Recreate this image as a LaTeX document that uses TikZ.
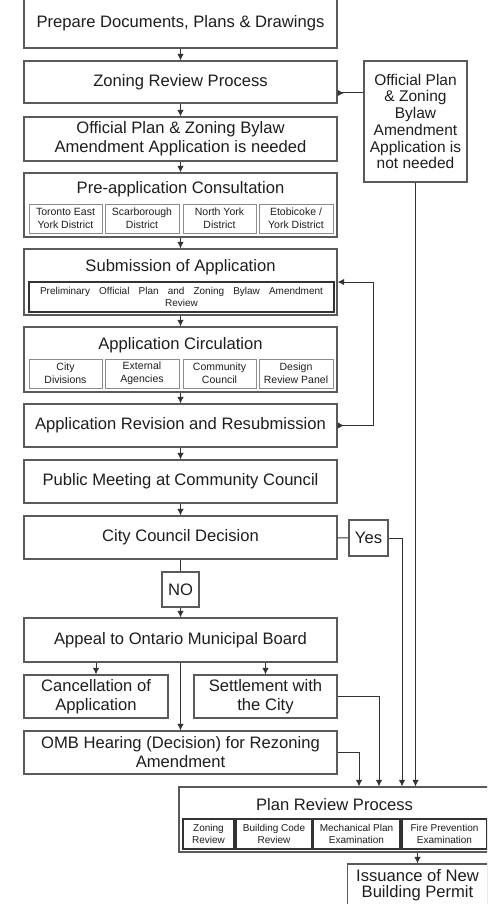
\documentclass[tikz,border=0pt]{standalone}
\usepackage{fontspec}
\setmainfont{Liberation Sans}
\usetikzlibrary{arrows.meta, positioning, calc}
\definecolor{boxgray}{RGB}{90, 90, 90}
\definecolor{inkgray}{RGB}{30, 30, 30}

\tikzset{
  stage/.style={draw=boxgray, line width=1.2pt, fill=white, text=inkgray, align=center,
    font=\fontsize{16.6}{19}\selectfont, minimum width=313pt, inner sep=2pt},
  title/.style={text=inkgray, font=\fontsize{16.6}{19}\selectfont, inner sep=0pt},
  part/.style={draw=black!45, line width=0.9pt, text=inkgray, align=center,
    font=\fontsize{10.5}{12.7}\selectfont, minimum height=29pt, inner sep=1pt},
  check/.style={draw=black!80, line width=1.8pt, text=inkgray, align=center,
    font=\fontsize{10}{12.5}\selectfont, minimum height=30pt, inner sep=1pt},
  flow/.style={draw=black!80, line width=1pt, -{Latex[length=6.5pt, width=6.5pt]}},
  link/.style={draw=black!80, line width=1pt},
}

\begin{document}
\begin{tikzpicture}[x=1pt, y=-1pt]
  \useasboundingbox (0,0) rectangle (487,904);
  \clip (0,0) rectangle (487,904);

  % main column
  \node[stage, minimum height=49pt] (prep) at (180.5,23.5) {Prepare Documents, Plans \& Drawings};
  \node[stage, minimum height=42pt] (zrp) at (180.5,82) {Zoning Review Process};
  \node[stage, minimum height=44pt] (need) at (180.5,139) {Official Plan \& Zoning Bylaw\\Amendment Application is needed};

  \node[stage, minimum height=64pt] (pre) at (180.5,205) {};
  \node[title] (pret) at (180.5,189) {Pre-application Consultation};
  \node[part, minimum width=73pt] (tor) at (65.5,218.5) {Toronto East\\York District};
  \node[part, minimum width=74pt] (sca) at (142,218.5) {Scarborough\\District};
  \node[part, minimum width=73pt] (nyk) at (219.5,218.5) {North York\\District};
  \node[part, minimum width=74pt] (eto) at (296,218.5) {Etobicoke /\\York District};

  \node[stage, minimum height=66pt] (sub) at (180.5,282) {};
  \node[title] (subt) at (180.5,267) {Submission of Application};
  \node[check, minimum width=305pt, line width=1.6pt] (prelim) at (181.5,297)
    {\makebox[283pt][s]{Preliminary Official Plan and Zoning Bylaw Amendment}\\Review};

  \node[stage, minimum height=65pt] (circ) at (180.5,359.5) {};
  \node[title] (circt) at (180.5,345) {Application Circulation};
  \node[part, minimum width=73pt] (cdiv) at (65.5,373.5) {City\\Divisions};
  \node[part, minimum width=74pt] (ext) at (142,373.5) {External\\Agencies};
  \node[part, minimum width=73pt] (ccom) at (219.5,373.5) {Community\\Council};
  \node[part, minimum width=74pt] (drp) at (296,373.5) {Design\\Review Panel};

  \node[stage, minimum height=43pt] (rev) at (180.5,425.5) {Application Revision and Resubmission};
  \node[stage, minimum height=43pt] (pub) at (180.5,481.5) {Public Meeting at Community Council};
  \node[stage, minimum height=43pt] (ccd) at (180.5,537.5) {City Council Decision};
  \node[stage, minimum width=37pt, minimum height=35pt] (no) at (180.5,589.5) {NO};
  \node[stage, minimum width=39pt, minimum height=36pt] (yes) at (368.5,538) {Yes};
  \node[stage, minimum height=44pt] (app) at (180.5,640) {Appeal to Ontario Municipal Board};
  \node[stage, minimum width=144pt, minimum height=43pt] (can) at (96,696.5) {Cancellation of\\Application};
  \node[stage, minimum width=143pt, minimum height=43pt] (set) at (265.5,696.5) {Settlement with\\the City};
  \node[stage, minimum height=43pt] (hear) at (180.5,752.5) {OMB Hearing (Decision) for Rezoning\\Amendment};

  % right side
  \node[stage, minimum width=103pt, minimum height=121pt, font=\fontsize{15.5}{16.7}\selectfont] (skip)
    at (415.5,121.5) {Official Plan\\\& Zoning\\Bylaw\\Amendment\\Application is\\not needed};

  \node[stage, minimum width=311pt, minimum height=65pt] (prp) at (334.5,819.5) {};
  \node[title] (prpt) at (334.5,805) {Plan Review Process};
  \node[check, minimum width=51pt] (zrv) at (208.5,834) {Zoning\\Review};
  \node[check, minimum width=76pt] (bcr) at (274,834) {Building Code\\Review};
  \node[check, minimum width=87pt] (mpe) at (356.5,834) {Mechanical Plan\\Examination};
  \node[check, minimum width=85pt] (fpe) at (444.5,834) {Fire Prevention\\Examination};

  \node[stage, minimum width=140pt, minimum height=42pt, font=\fontsize{16.6}{16}\selectfont] (iss)
    at (417.5,885) {Issuance of New\\Building Permit};

  \coordinate (kz) at (0,93);
  \coordinate (kloop) at (373,282);
  \coordinate (kyes) at (402,0);
  \coordinate (kset) at (379,0);
  \coordinate (khear) at (359,0);

  \draw[flow] (prep) -- (zrp);
  \draw[flow] (zrp) -- (need);
  \draw[flow] (need) -- (pre);
  \draw[flow] (pre) -- (sub);
  \draw[flow] (sub) -- (circ);
  \draw[flow] (circ) -- (rev);
  \draw[flow] (rev) -- (pub);
  \draw[flow] (pub) -- (ccd);
  \draw[link] (ccd) -- (no);
  \draw[flow] (no) -- (app);
  \draw[flow] (app.south -| can) -- (can);
  \draw[flow] (app.south -| set) -- (set);
  \draw[flow] (app) -- (hear);

  \draw[link, {Latex[reversed, length=6.5pt, width=6.5pt]}-] (zrp.east |- kz) -- (skip.west |- kz);
  \draw[flow, {Latex[reversed, length=6.5pt, width=6.5pt]}-{Latex[length=6.5pt, width=6.5pt]}]
    (rev.east) -| (kloop) -- (kloop -| sub.east);

  \draw[link] (ccd) -- (yes);
  \draw[flow] (yes.east) -| (kyes |- prp.north);
  \draw[flow] (set.east) -| (kset |- prp.north);
  \draw[flow] (hear.east) -| (khear |- prp.north);
  \draw[flow] (skip.south) -- (skip.south |- prp.north);
  \draw[flow] (prp.south -| iss) -- (iss);
\end{tikzpicture}
\end{document}
